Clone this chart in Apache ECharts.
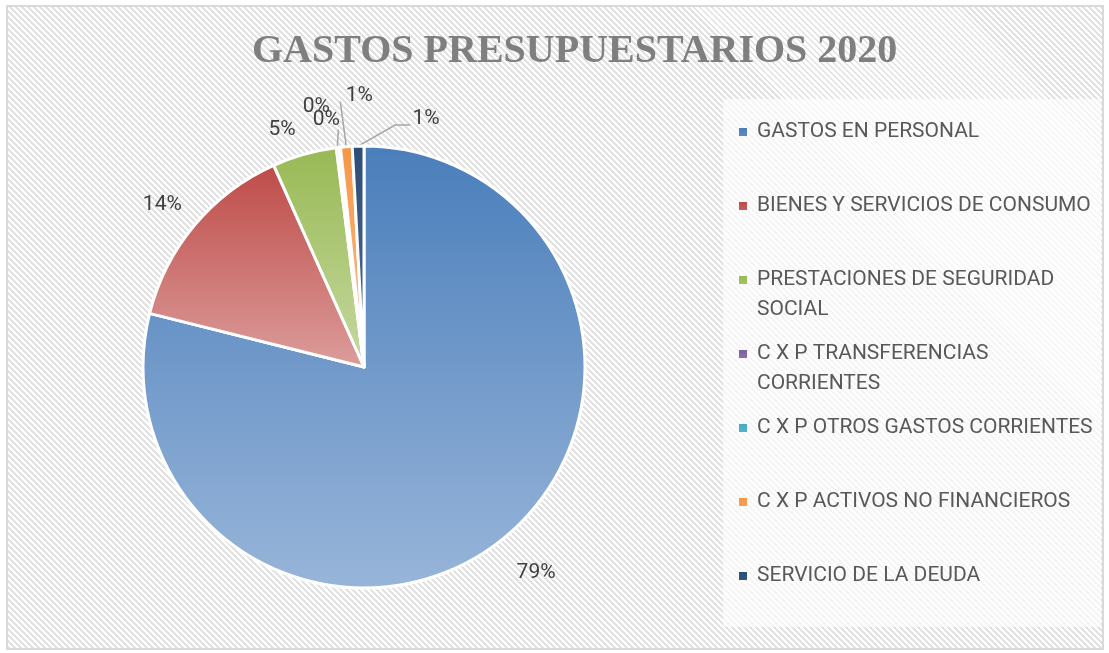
<!DOCTYPE html>
<html>
<head>
<meta charset="utf-8">
<script src="https://cdn.jsdelivr.net/npm/echarts@6/dist/echarts.min.js"></script>
<style>
  html, body { margin: 0; padding: 0; background: #ffffff; }
  #frame {
    position: absolute; left: 6px; top: 5px; width: 1098px; height: 645px;
    box-sizing: border-box; border: 2px solid #d9d9d9;
    background: repeating-linear-gradient(45deg, #e2e2e2 0px, #e2e2e2 2px, #ffffff 2px, #ffffff 4.24px);
  }
  #chart { position: absolute; left: 0; top: 0; width: 1109px; height: 653px; }
</style>
</head>
<body>
<div id="frame"></div>
<div id="chart"></div>
<script>
const titleText = 'GASTOS PRESUPUESTARIOS 2020';
const categories = [
  'GASTOS EN PERSONAL',
  'BIENES Y SERVICIOS DE CONSUMO',
  'PRESTACIONES DE SEGURIDAD SOCIAL',
  'C X P TRANSFERENCIAS CORRIENTES',
  'C X P OTROS GASTOS CORRIENTES',
  'C X P ACTIVOS NO FINANCIEROS',
  'SERVICIO DE LA DEUDA'
];
const legendLabels = [
  'GASTOS EN PERSONAL\n ',
  'BIENES Y SERVICIOS DE CONSUMO\n ',
  'PRESTACIONES DE SEGURIDAD\nSOCIAL',
  'C X P TRANSFERENCIAS\nCORRIENTES',
  'C X P OTROS GASTOS CORRIENTES\n ',
  'C X P ACTIVOS NO FINANCIEROS\n ',
  'SERVICIO DE LA DEUDA\n '
];
const values = [78.9, 14.4, 4.7, 0.15, 0.15, 0.85, 0.85];

const grad = (a, b) => new echarts.graphic.LinearGradient(0, 0, 0, 1, [
  { offset: 0, color: a }, { offset: 1, color: b }
]);
const sliceColors = [
  grad('#4a7ebb', '#98b5d9'),
  grad('#be4b48', '#dc9d9b'),
  grad('#98b954', '#c6d9a0'),
  grad('#7d60a0', '#b3a2c7'),
  grad('#46aac5', '#93cddd'),
  grad('#f79646', '#fac090'),
  grad('#2c4d75', '#4f6f99')
];
// per-slice label styling (line lengths, distances)
const labelCfg = [
  { len: 40, len2: 0, dist: -8, line: false },
  { len: 31, len2: 0, dist: -11, line: false },
  { len: 25, len2: 0, dist: 2, line: false },
  { len: 18, len2: 0, dist: 3, line: true },
  { len: 18, len2: 0, dist: 3, line: true },
  { len: 18, len2: 0, dist: 3, line: true },
  { len: 18, len2: 0, dist: 3, line: true }
];
// small-slice label offsets relative to the slice's own anchor point on the arc
const smallLabelOffset = {
  3: { label: [-11, -28], line: [[0, 0], [1, -18]] },
  4: { label: [-23, -41], line: null },
  5: { label: [13, -51], line: [[0, 0], [-6, -45]] },
  6: { label: [68, -27], line: [[0, 0], [37, -21], [52, -21]] }
};

const chart = echarts.init(document.getElementById('chart'), null, { renderer: 'canvas' });
const data = categories.map((name, i) => ({
  name: name,
  value: values[i],
  itemStyle: { color: sliceColors[i] },
  label: { distanceToLabelLine: labelCfg[i].dist },
  labelLine: {
    show: labelCfg[i].line,
    length: labelCfg[i].len,
    length2: labelCfg[i].len2,
    lineStyle: (smallLabelOffset[i] && !smallLabelOffset[i].line) ? { opacity: 0 } : {}
  }
}));

chart.setOption({
  backgroundColor: 'transparent',
  animation: false,
  title: {
    text: titleText,
    left: 247,
    top: 27,
    padding: 5,
    textStyle: {
      fontFamily: 'Liberation Serif',
      fontWeight: 'bold',
      fontSize: 40,
      color: '#7f7f7f'
    }
  },
  graphic: [{
    type: 'rect',
    shape: { x: 723, y: 99, width: 378, height: 528 },
    style: { fill: 'rgba(255,255,255,0.65)' },
    silent: true,
    z: -1
  }],
  legend: {
    orient: 'vertical',
    left: 734,
    top: 112,
    padding: 5,
    itemGap: 14,
    itemWidth: 13,
    itemHeight: 38,
    icon: 'path://M0,0L8,0L8,8L0,8Z M12.9,37.9L13,37.9L13,38L12.9,38Z',
    itemStyle: { borderWidth: 0 },
    selectedMode: false,
    formatter: function (name) { return legendLabels[categories.indexOf(name)]; },
    textStyle: {
      fontFamily: 'Roboto',
      fontSize: 21,
      color: '#595959',
      lineHeight: 30
    },
    data: categories
  },
  series: [{
    type: 'pie',
    center: [364, 367],
    radius: 221,
    startAngle: 90,
    clockwise: true,
    avoidLabelOverlap: false,
    itemStyle: { borderColor: '#ffffff', borderWidth: 3 },
    label: {
      show: true,
      position: 'outside',
      fontFamily: 'Roboto',
      fontSize: 21,
      color: '#404040',
      formatter: function (p) { return Math.round(p.percent) + '%'; }
    },
    labelLine: { lineStyle: { color: '#a6a6a6', width: 1.5 } },
    labelLayout: function (params) {
      const cfg = smallLabelOffset[params.dataIndex];
      if (!cfg || !params.labelLinePoints) { return {}; }
      const p0 = params.labelLinePoints[0];
      const out = {
        x: p0[0] + cfg.label[0],
        y: p0[1] + cfg.label[1],
        align: 'center',
        verticalAlign: 'middle'
      };
      if (cfg.line) {
        out.labelLinePoints = cfg.line.map(function (d) { return [p0[0] + d[0], p0[1] + d[1]]; });
      }
      return out;
    },
    emphasis: { disabled: true },
    data: data
  }]
});
</script>
</body>
</html>
